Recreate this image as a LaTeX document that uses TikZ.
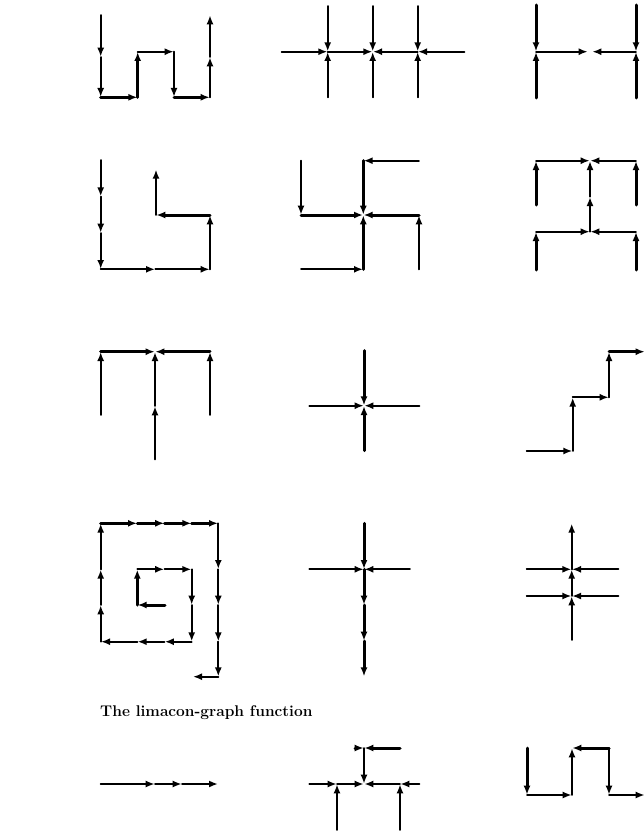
\documentclass[tikz,border=0pt]{standalone}
\usetikzlibrary{arrows.meta}
\tikzset{
  e/.style={line width=1.9pt,line cap=round,-{Latex[length=9pt,width=7pt]},shorten >=0.3pt},
  tk/.style={line width=3pt},
  ttl/.style={font=\fontsize{15.5}{18}\selectfont\bfseries,anchor=base west,inner sep=0pt}
}
\begin{document}
\begin{tikzpicture}[x=1pt,y=-1pt]
\useasboundingbox (0,0) rectangle (643,832);
% ---------- panel 1
\coordinate (a1) at (100.7,15);
\coordinate (a2) at (100.7,57);
\coordinate (a3) at (100.7,97.3);
\coordinate (a4) at (137.7,97.3);
\coordinate (a5) at (137.7,51.7);
\coordinate (a6) at (174,51.7);
\coordinate (a7) at (174,97.3);
\coordinate (a8) at (210,97.3);
\coordinate (a9) at (210,57);
\coordinate (a10) at (210,15);
\draw[e] (a1) -- (a2);
\draw[e] (a2) -- (a3);
\draw[e,tk] (a3) -- (a4);
\draw[e,tk] (a4) -- (a5);
\draw[e] (a5) -- (a6);
\draw[e] (a6) -- (a7);
\draw[e,tk] (a7) -- (a8);
\draw[e] (a8) -- (a9);
\draw[e] (a9) -- (a10);
% ---------- panel 2
\coordinate (b0) at (281.7,51.7);
\coordinate (b9) at (464.3,51.7);
\foreach \i/\x in {1/327.7,2/372.7,3/417.7}{
  \coordinate (bc\i) at (\x,51.7);
  \coordinate (bt\i) at (\x,6);
  \coordinate (bb\i) at (\x,97.3);
  \draw[e] (bt\i) -- (bc\i);
  \draw[e] (bb\i) -- (bc\i);
}
\draw[e] (b0) -- (bc1);
\draw[e] (bc1) -- (bc2);
\draw[e] (bc3) -- (bc2);
\draw[e] (b9) -- (bc3);
% ---------- panel 3
\coordinate (c1) at (536,5);
\coordinate (c2) at (536,51.7);
\coordinate (c3) at (536,98);
\coordinate (c4) at (636,5);
\coordinate (c5) at (636,51.7);
\coordinate (c6) at (636,98);
\coordinate (c7) at (588,51.7);
\coordinate (c8) at (592,51.7);
\draw[e,tk] (c1) -- (c2);
\draw[e,tk] (c3) -- (c2);
\draw[e,tk] (c4) -- (c5);
\draw[e,tk] (c6) -- (c5);
\draw[e] (c2) -- (c7);
\draw[e] (c5) -- (c8);
% ---------- panel 4
\coordinate (d1) at (100.7,160);
\coordinate (d2) at (100.7,196.7);
\coordinate (d3) at (100.7,233);
\coordinate (d4) at (100.7,269.3);
\coordinate (d5) at (155.4,269.3);
\coordinate (d6) at (210,269.3);
\coordinate (d7) at (210,215);
\coordinate (d8) at (156,215);
\coordinate (d9) at (156,169.3);
\draw[e] (d1) -- (d2);
\draw[e] (d2) -- (d3);
\draw[e] (d3) -- (d4);
\draw[e] (d4) -- (d5);
\draw[e] (d5) -- (d6);
\draw[e] (d6) -- (d7);
\draw[e,tk] (d7) -- (d8);
\draw[e] (d8) -- (d9);
% ---------- panel 5
\coordinate (e0) at (363.3,215);
\coordinate (e1) at (301,160.7);
\coordinate (e2) at (301,215);
\coordinate (e3) at (363.3,160.7);
\coordinate (e4) at (419,160.7);
\coordinate (e5) at (419,215);
\coordinate (e6) at (419,269.3);
\coordinate (e7) at (363.3,269.3);
\coordinate (e8) at (301,269.3);
\draw[e] (e1) -- (e2);
\draw[e,tk] (e2) -- (e0);
\draw[e,tk] (e3) -- (e0);
\draw[e] (e4) -- (e3);
\draw[e,tk] (e5) -- (e0);
\draw[e] (e6) -- (e5);
\draw[e,tk] (e7) -- (e0);
\draw[e] (e8) -- (e7);
% ---------- panel 6
\coordinate (f1) at (536,160.7);
\coordinate (f2) at (590,160.7);
\coordinate (f3) at (636,160.7);
\coordinate (f4) at (536,205);
\coordinate (f5) at (636,205);
\coordinate (f6) at (590,196.7);
\coordinate (f7) at (536,231.7);
\coordinate (f8) at (590,231.7);
\coordinate (f9) at (636,231.7);
\coordinate (f10) at (536,270);
\coordinate (f11) at (636,270);
\draw[e] (f1) -- (f2);
\draw[e] (f3) -- (f2);
\draw[e,tk] (f4) -- (f1);
\draw[e,tk] (f5) -- (f3);
\draw[e] (f8) -- (f6);
\draw[e] (f6) -- (f2);
\draw[e] (f7) -- (f8);
\draw[e] (f9) -- (f8);
\draw[e,tk] (f10) -- (f7);
\draw[e,tk] (f11) -- (f9);
% ---------- panel 7
\coordinate (g1) at (100.7,351.7);
\coordinate (g2) at (155,351.7);
\coordinate (g3) at (210,351.7);
\coordinate (g4) at (100.7,415);
\coordinate (g5) at (210,415);
\coordinate (g6) at (155,406);
\coordinate (g7) at (155,459.3);
\draw[e,tk] (g1) -- (g2);
\draw[e,tk] (g3) -- (g2);
\draw[e] (g4) -- (g1);
\draw[e] (g5) -- (g3);
\draw[e] (g7) -- (g6);
\draw[e] (g6) -- (g2);
% ---------- panel 8
\coordinate (h0) at (364,405.7);
\coordinate (h1) at (364,350.7);
\coordinate (h2) at (364,450.7);
\coordinate (h3) at (309.3,405.7);
\coordinate (h4) at (419.3,405.7);
\draw[e,tk] (h1) -- (h0);
\draw[e,tk] (h2) -- (h0);
\draw[e] (h3) -- (h0);
\draw[e] (h4) -- (h0);
% ---------- panel 9
\coordinate (i1) at (526.7,451);
\coordinate (i2) at (572.7,451);
\coordinate (i3) at (572.7,397.3);
\coordinate (i4) at (609,397.3);
\coordinate (i5) at (609,351.7);
\coordinate (i6) at (645,351.7);
\draw[e] (i1) -- (i2);
\draw[e] (i2) -- (i3);
\draw[e] (i3) -- (i4);
\draw[e] (i4) -- (i5);
\draw[e,tk] (i5) -- (i6);
% ---------- panel 10 (spiral)
\coordinate (s1) at (165,605);
\coordinate (s2) at (137.3,605);
\coordinate (s3) at (137.3,569.3);
\coordinate (s4) at (164.5,569.3);
\coordinate (s5) at (191.7,569.3);
\coordinate (s6) at (191.7,605);
\coordinate (s7) at (191.7,641.7);
\coordinate (s8) at (164.5,641.7);
\coordinate (s9) at (137.3,641.7);
\coordinate (s10) at (100.7,641.7);
\coordinate (s11) at (100.7,605);
\coordinate (s12) at (100.7,569.3);
\coordinate (s13) at (100.7,523.3);
\coordinate (s14) at (137.3,523.3);
\coordinate (s15) at (164.5,523.3);
\coordinate (s16) at (191.7,523.3);
\coordinate (s17) at (218.3,523.3);
\coordinate (s18) at (218.3,569.3);
\coordinate (s19) at (218.3,605);
\coordinate (s20) at (218.3,641.7);
\coordinate (s21) at (218.3,676.7);
\coordinate (s22) at (192.7,676.7);
\draw[e,tk] (s1) -- (s2);
\draw[e,tk] (s2) -- (s3);
\foreach \a/\b in {3/4,4/5,5/6,6/7,7/8,8/9,9/10,10/11,11/12,12/13,17/18,18/19,19/20,20/21,21/22}{
  \draw[e] (s\a) -- (s\b);
}
\foreach \a/\b in {13/14,14/15,15/16,16/17}{
  \draw[e,tk] (s\a) -- (s\b);
}
% ---------- panel 11
\coordinate (k0) at (364,569.3);
\coordinate (k1) at (364,523.3);
\coordinate (k2) at (309.3,569.3);
\coordinate (k3) at (410,569.3);
\coordinate (k4) at (364,605);
\coordinate (k5) at (364,641);
\coordinate (k6) at (364,676.7);
\draw[e,tk] (k1) -- (k0);
\draw[e] (k2) -- (k0);
\draw[e] (k3) -- (k0);
\draw[e,tk] (k0) -- (k4);
\draw[e,tk] (k4) -- (k5);
\draw[e,tk] (k5) -- (k6);
% ---------- panel 12
\coordinate (m1) at (571.7,523.3);
\coordinate (m2) at (571.7,569.3);
\coordinate (m3) at (571.7,596);
\coordinate (m4) at (571.7,640);
\coordinate (m5) at (526.7,569.3);
\coordinate (m6) at (618.3,569.3);
\coordinate (m7) at (526.7,596);
\coordinate (m8) at (618.3,596);
\draw[e] (m4) -- (m3);
\draw[e] (m3) -- (m2);
\draw[e] (m2) -- (m1);
\draw[e] (m5) -- (m2);
\draw[e] (m6) -- (m2);
\draw[e] (m7) -- (m3);
\draw[e] (m8) -- (m3);
% ---------- title
\node[ttl] (title) at (100,716) {The limacon-graph function};
% ---------- panel 13
\coordinate (n1) at (100.7,784);
\coordinate (n2) at (155,784);
\coordinate (n3) at (182,784);
\coordinate (n4) at (218.3,784);
\draw[e] (n1) -- (n2);
\draw[e] (n2) -- (n3);
\draw[e] (n3) -- (n4);
% ---------- panel 14
\coordinate (p1) at (355,748);
\coordinate (p2) at (364,748);
\coordinate (p3) at (400,748);
\coordinate (p4) at (364,784);
\coordinate (p5) at (309.3,784);
\coordinate (p6) at (337,784);
\coordinate (p7) at (400,784);
\coordinate (p8) at (419.3,784);
\coordinate (p9) at (337,830);
\coordinate (p10) at (400,830);
\draw[e,tk] (p1) -- (p2);
\draw[e,tk] (p3) -- (p2);
\draw[e] (p2) -- (p4);
\draw[e] (p5) -- (p6);
\draw[e] (p6) -- (p4);
\draw[e] (p7) -- (p4);
\draw[e] (p8) -- (p7);
\draw[e] (p9) -- (p6);
\draw[e] (p10) -- (p7);
% ---------- panel 15
\coordinate (q1) at (527,748);
\coordinate (q2) at (527,795);
\coordinate (q3) at (572,795);
\coordinate (q4) at (572,748);
\coordinate (q5) at (609,748);
\coordinate (q6) at (609,795);
\coordinate (q7) at (645,795);
\draw[e,tk] (q1) -- (q2);
\draw[e] (q2) -- (q3);
\draw[e] (q3) -- (q4);
\draw[e,tk] (q5) -- (q4);
\draw[e] (q5) -- (q6);
\draw[e] (q6) -- (q7);
\end{tikzpicture}
\end{document}
